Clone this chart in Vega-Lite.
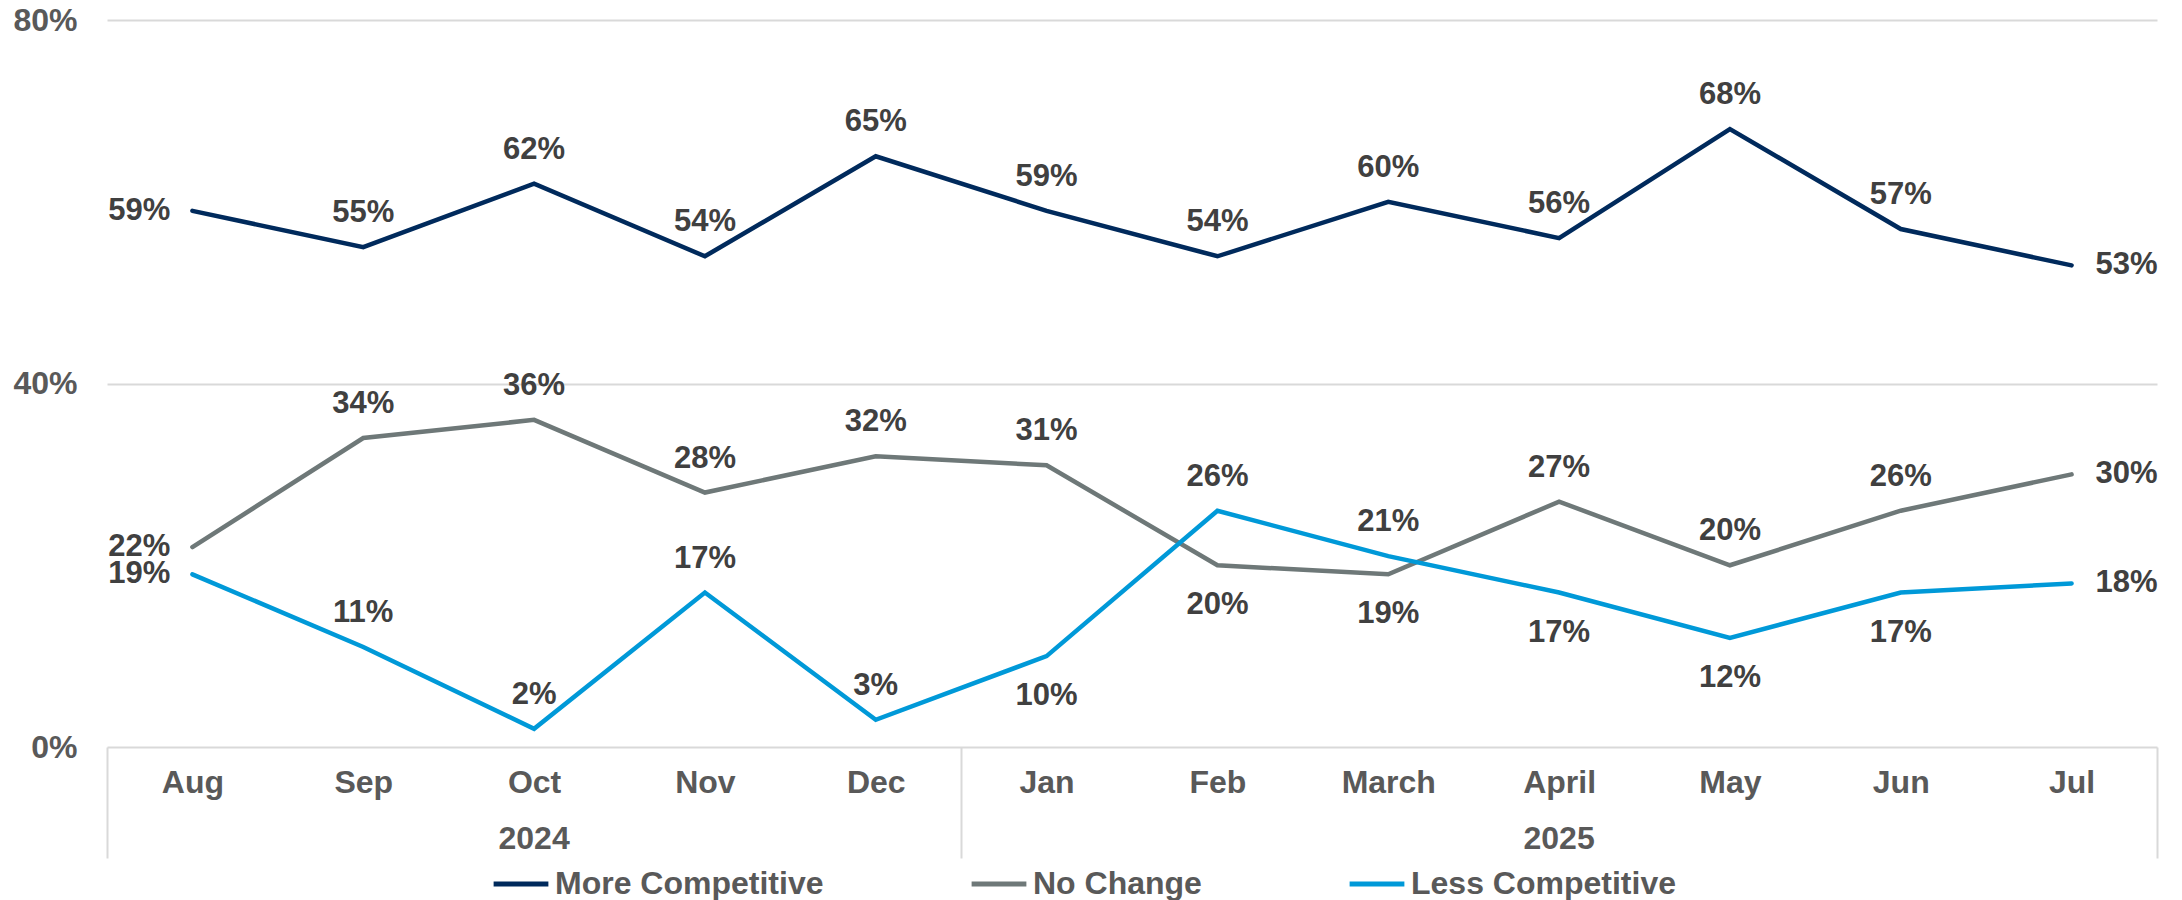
{
  "$schema": "https://vega.github.io/schema/vega-lite/v6.json",
  "width": 2050,
  "height": 727,
  "autosize": {"type": "none"},
  "padding": {"left": 107, "top": 20, "right": 25, "bottom": 153},
  "background": "white",
  "config": {
    "view": {"stroke": null},
    "font": "Liberation Sans",
    "axis": {"labelFont": "Liberation Sans", "labelFontWeight": "bold", "labelFontSize": 32, "labelColor": "#595959", "title": null}
  },
  "data": {"values": [
    {"month": "Aug", "year": "2024", "series": "More Competitive", "value": 0.59},
    {"month": "Sep", "year": "2024", "series": "More Competitive", "value": 0.55},
    {"month": "Oct", "year": "2024", "series": "More Competitive", "value": 0.62},
    {"month": "Nov", "year": "2024", "series": "More Competitive", "value": 0.54},
    {"month": "Dec", "year": "2024", "series": "More Competitive", "value": 0.65},
    {"month": "Jan", "year": "2025", "series": "More Competitive", "value": 0.59},
    {"month": "Feb", "year": "2025", "series": "More Competitive", "value": 0.54},
    {"month": "March", "year": "2025", "series": "More Competitive", "value": 0.60},
    {"month": "April", "year": "2025", "series": "More Competitive", "value": 0.56},
    {"month": "May", "year": "2025", "series": "More Competitive", "value": 0.68},
    {"month": "Jun", "year": "2025", "series": "More Competitive", "value": 0.57},
    {"month": "Jul", "year": "2025", "series": "More Competitive", "value": 0.53},
    {"month": "Aug", "year": "2024", "series": "No Change", "value": 0.22},
    {"month": "Sep", "year": "2024", "series": "No Change", "value": 0.34},
    {"month": "Oct", "year": "2024", "series": "No Change", "value": 0.36},
    {"month": "Nov", "year": "2024", "series": "No Change", "value": 0.28},
    {"month": "Dec", "year": "2024", "series": "No Change", "value": 0.32},
    {"month": "Jan", "year": "2025", "series": "No Change", "value": 0.31},
    {"month": "Feb", "year": "2025", "series": "No Change", "value": 0.20},
    {"month": "March", "year": "2025", "series": "No Change", "value": 0.19},
    {"month": "April", "year": "2025", "series": "No Change", "value": 0.27},
    {"month": "May", "year": "2025", "series": "No Change", "value": 0.20},
    {"month": "Jun", "year": "2025", "series": "No Change", "value": 0.26},
    {"month": "Jul", "year": "2025", "series": "No Change", "value": 0.30},
    {"month": "Aug", "year": "2024", "series": "Less Competitive", "value": 0.19},
    {"month": "Sep", "year": "2024", "series": "Less Competitive", "value": 0.11},
    {"month": "Oct", "year": "2024", "series": "Less Competitive", "value": 0.02},
    {"month": "Nov", "year": "2024", "series": "Less Competitive", "value": 0.17},
    {"month": "Dec", "year": "2024", "series": "Less Competitive", "value": 0.03},
    {"month": "Jan", "year": "2025", "series": "Less Competitive", "value": 0.10},
    {"month": "Feb", "year": "2025", "series": "Less Competitive", "value": 0.26},
    {"month": "March", "year": "2025", "series": "Less Competitive", "value": 0.21},
    {"month": "April", "year": "2025", "series": "Less Competitive", "value": 0.17},
    {"month": "May", "year": "2025", "series": "Less Competitive", "value": 0.12},
    {"month": "Jun", "year": "2025", "series": "Less Competitive", "value": 0.17},
    {"month": "Jul", "year": "2025", "series": "Less Competitive", "value": 0.18}
  ]},
  "encoding": {
    "x": {"field": "month", "type": "nominal", "sort": null, "scale": {"type": "band", "paddingInner": 0, "paddingOuter": 0}, "axis": null},
    "y": {"field": "value", "type": "quantitative", "scale": {"domain": [0, 0.8], "nice": false, "zero": true}}
  },
  "layer": [
    {
      "mark": {"type": "line", "strokeWidth": 4.5, "strokeCap": "round", "strokeJoin": "miter"},
      "encoding": {
        "x": {"field": "month", "type": "nominal", "sort": null,
          "axis": {"orient": "bottom", "domain": false, "ticks": true, "tickBand": "extent", "tickSize": 111, "tickWidth": 2,
            "tickColor": {"condition": {"test": "datum.extra || datum.value == 'Dec' || datum.value == 'Jul'", "value": "#d9d9d9"}, "value": "transparent"},
            "labelPadding": -91, "labelAngle": 0, "grid": false}},
        "y": {"field": "value", "type": "quantitative",
          "axis": {"values": [0, 0.4, 0.8], "format": ".0%", "domain": false, "ticks": false, "labelPadding": 30, "grid": true, "gridColor": "#d9d9d9", "gridWidth": 2}},
        "color": {"field": "series", "type": "nominal", "sort": ["More Competitive", "No Change", "Less Competitive"],
          "scale": {"domain": ["More Competitive", "No Change", "Less Competitive"], "range": ["#002A5C", "#6E7878", "#0099D8"]},
          "legend": {"orient": "none", "legendX": 384, "legendY": 834, "direction": "horizontal", "title": null, "symbolType": "stroke", "symbolStrokeWidth": 5, "symbolSize": 3000,
            "labelFont": "Liberation Sans", "labelFontWeight": "bold", "labelFontSize": 32, "labelColor": "#595959", "labelOffset": 4, "labelLimit": 500, "columnPadding": 137}}
      }
    },
    {
      "mark": {"type": "text", "opacity": 0},
      "encoding": {
        "x": {"field": "month", "type": "nominal", "sort": null,
          "axis": {"orient": "bottom", "domain": false, "ticks": false, "labelAngle": 0, "labelPadding": 76, "grid": false,
            "values": ["Oct", "April"], "labelExpr": "datum.value == 'Oct' ? '2024' : '2025'"}},
        "text": {"field": "year"}
      }
    },
    {
      "transform": [{"filter": "datum.month != 'Aug' && datum.month != 'Jul' && !(datum.series == 'No Change' && (datum.month == 'Feb' || datum.month == 'March')) && !(datum.series == 'Less Competitive' && (datum.month == 'Jan' || datum.month == 'April' || datum.month == 'May' || datum.month == 'Jun'))"}],
      "mark": {"type": "text", "dy": -34, "baseline": "middle", "align": "center", "font": "Liberation Sans", "fontWeight": "bold", "fontSize": 31, "color": "#404040"},
      "encoding": {"x": {"field": "month", "type": "nominal", "sort": null, "axis": null}, "text": {"field": "value", "type": "quantitative", "format": ".0%"}}
    },
    {
      "transform": [{"filter": "(datum.series == 'No Change' && (datum.month == 'Feb' || datum.month == 'March')) || (datum.series == 'Less Competitive' && (datum.month == 'Jan' || datum.month == 'April' || datum.month == 'May' || datum.month == 'Jun'))"}],
      "mark": {"type": "text", "dy": 40, "baseline": "middle", "align": "center", "font": "Liberation Sans", "fontWeight": "bold", "fontSize": 31, "color": "#404040"},
      "encoding": {"x": {"field": "month", "type": "nominal", "sort": null, "axis": null}, "text": {"field": "value", "type": "quantitative", "format": ".0%"}}
    },
    {
      "transform": [{"filter": "datum.month == 'Aug'"}],
      "mark": {"type": "text", "dx": -22, "baseline": "middle", "align": "right", "font": "Liberation Sans", "fontWeight": "bold", "fontSize": 31, "color": "#404040"},
      "encoding": {"x": {"field": "month", "type": "nominal", "sort": null, "axis": null}, "text": {"field": "value", "type": "quantitative", "format": ".0%"}}
    },
    {
      "transform": [{"filter": "datum.month == 'Jul'"}],
      "mark": {"type": "text", "dx": 24, "baseline": "middle", "align": "left", "font": "Liberation Sans", "fontWeight": "bold", "fontSize": 31, "color": "#404040"},
      "encoding": {"x": {"field": "month", "type": "nominal", "sort": null, "axis": null}, "text": {"field": "value", "type": "quantitative", "format": ".0%"}}
    }
  ],
  "resolve": {"axis": {"x": "independent"}}
}
